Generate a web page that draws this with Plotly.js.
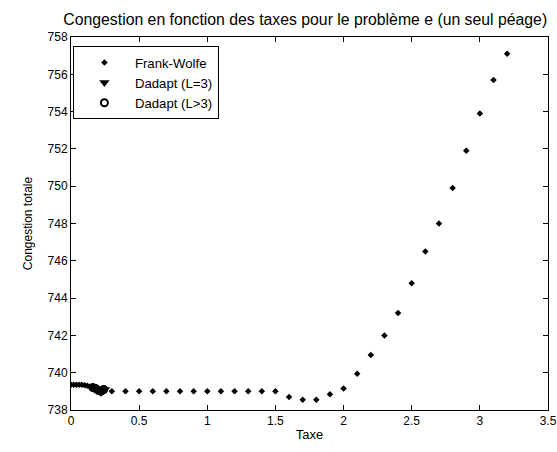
<!DOCTYPE html>
<html>
<head>
<meta charset="utf-8">
<script src="https://cdn.plot.ly/plotly-3.0.1.min.js"></script>
<style>html,body{margin:0;padding:0;background:#fff;}#chart{width:557px;height:452px;}</style>
</head>
<body>
<div id="chart"></div>
<script>
var fwX = [0, 0.02, 0.04, 0.06, 0.08, 0.10, 0.12, 0.14, 0.16, 0.18, 0.20, 0.22, 0.24,
  0.3, 0.4, 0.5, 0.6, 0.7, 0.8, 0.9, 1.0, 1.1, 1.2, 1.3, 1.4, 1.5, 1.6, 1.7, 1.8, 1.9, 2.0,
  2.1, 2.2, 2.3, 2.4, 2.5, 2.6, 2.7, 2.8, 2.9, 3.0, 3.1, 3.2];
var fwY = [739.35, 739.35, 739.35, 739.35, 739.35, 739.33, 739.3, 739.25, 739.2, 739.15, 739.1, 739.05, 739.0,
  739.0, 739.0, 739.0, 739.0, 739.0, 739.0, 739.0, 739.0, 739.0, 739.0, 739.0, 739.0, 739.0, 738.7, 738.55, 738.55, 738.85, 739.15,
  739.95, 740.95, 742.0, 743.2, 744.8, 746.5, 748.0, 749.9, 751.9, 753.9, 755.7, 757.1];
var d3X = [0.15, 0.17, 0.19, 0.21, 0.22, 0.23, 0.25];
var d3Y = [739.25, 739.2, 739.1, 739.05, 738.95, 739.05, 739.1];
var dgX = [0.16, 0.18, 0.20, 0.22, 0.24];
var dgY = [739.2, 739.15, 739.05, 739.0, 739.1];

var font = 'Liberation Sans, Arial, sans-serif';
var traces = [
  {x: fwX, y: fwY, mode: 'markers', type: 'scatter', name: 'Frank-Wolfe',
   marker: {symbol: 'diamond', size: 5, color: '#000'}},
  {x: d3X, y: d3Y, mode: 'markers', type: 'scatter', name: 'Dadapt (L=3)',
   marker: {symbol: 'triangle-down', size: 9, color: '#000'}},
  {x: dgX, y: dgY, mode: 'markers', type: 'scatter', name: 'Dadapt (L>3)',
   marker: {symbol: 'circle-open', size: 7, color: '#000', line: {width: 2, color: '#000'}}}
];
var axisCommon = {
  showline: true, linecolor: '#000', linewidth: 1, mirror: 'ticks',
  ticks: 'inside', ticklen: 5, tickcolor: '#000', tickwidth: 1,
  showgrid: false, zeroline: false,
  tickfont: {family: font, size: 12, color: '#000'}
};
var layout = {
  width: 557, height: 452,
  margin: {l: 71, r: 9, t: 37, b: 42},
  paper_bgcolor: '#fff', plot_bgcolor: '#fff',
  font: {family: font, color: '#000'},
  title: {text: 'Congestion en fonction des taxes pour le problème e (un seul péage)',
          font: {family: font, size: 15.8, color: '#000'}, x: 0.548, xanchor: 'center', y: 0.956, yanchor: 'middle'},
  xaxis: Object.assign({}, axisCommon, {range: [0, 3.5], dtick: 0.5, tick0: 0,
          title: {text: 'Taxe', font: {family: font, size: 13, color: '#000'}, standoff: 2}}),
  yaxis: Object.assign({}, axisCommon, {range: [738, 758], dtick: 2, tick0: 738,
          title: {text: 'Congestion totale', font: {family: font, size: 12, color: '#000'}, standoff: 12}}),
  showlegend: true,
  legend: {x: 0.004, y: 0.975, xanchor: 'left', yanchor: 'top', bgcolor: '#fff',
           bordercolor: '#000', borderwidth: 1, font: {family: font, size: 13.2, color: '#000'},
           itemwidth: 51, tracegroupgap: 2}
};
Plotly.newPlot('chart', traces, layout, {displayModeBar: false, staticPlot: true});
</script>
</body>
</html>
